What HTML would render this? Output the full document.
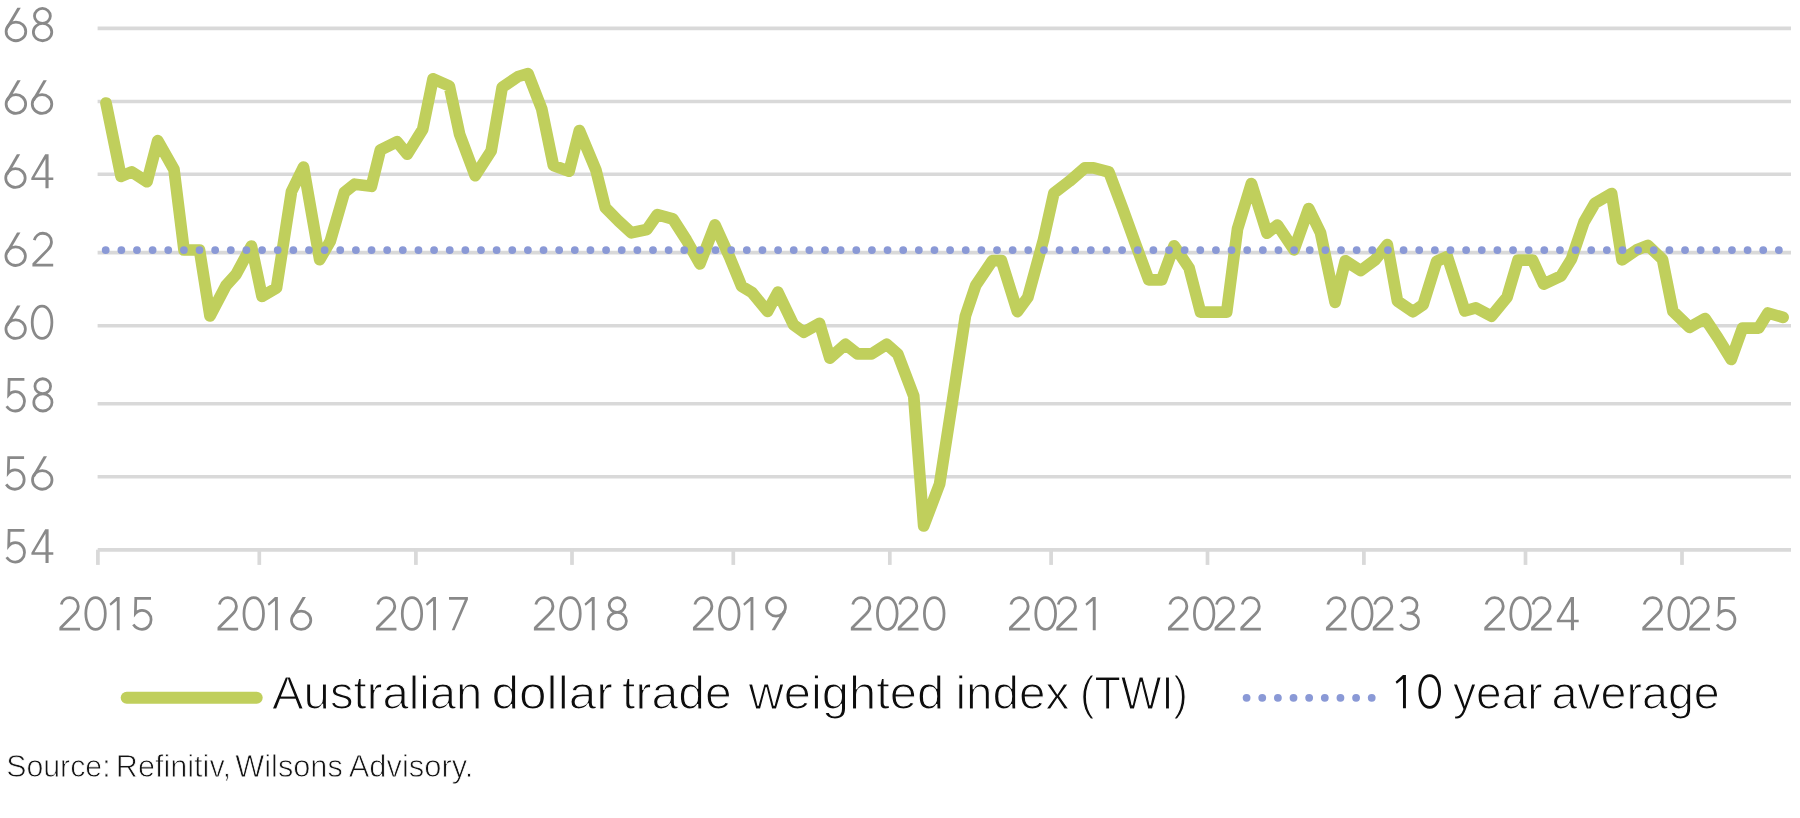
<!DOCTYPE html>
<html><head><meta charset="utf-8"><style>
html,body{margin:0;padding:0;background:#fff;width:1800px;height:818px;overflow:hidden}
svg{display:block;will-change:transform}
text{font-family:"Liberation Sans",sans-serif}
.ax{font-size:50.5px;fill:#898989;stroke:#fff;stroke-width:1.5px}
.lg{font-size:46.5px;fill:#0d0d0d;stroke:#fff;stroke-width:1.2px}
.src{font-size:31px;fill:#141414;stroke:#fff;stroke-width:0.8px}
.dg{fill:none;stroke:#898989;stroke-width:2.75px;stroke-linejoin:miter}
.dg-f{fill:#898989;fill-rule:evenodd}
.dk{fill:none;stroke:#0d0d0d;stroke-width:2.8px;stroke-linejoin:miter}
.dk-f{fill:#0d0d0d;fill-rule:evenodd}
</style></head><body>
<svg width="1800" height="818" viewBox="0 0 1800 818">
<line x1="97.6" y1="28.4" x2="1791" y2="28.4" stroke="#d9d9d9" stroke-width="3.6"/>
<line x1="97.6" y1="101.5" x2="1791" y2="101.5" stroke="#d9d9d9" stroke-width="3.6"/>
<line x1="97.6" y1="174.2" x2="1791" y2="174.2" stroke="#d9d9d9" stroke-width="3.6"/>
<line x1="97.6" y1="252.6" x2="1791" y2="252.6" stroke="#d9d9d9" stroke-width="3.6"/>
<line x1="97.6" y1="325.7" x2="1791" y2="325.7" stroke="#d9d9d9" stroke-width="3.6"/>
<line x1="97.6" y1="403.8" x2="1791" y2="403.8" stroke="#d9d9d9" stroke-width="3.6"/>
<line x1="97.6" y1="476.7" x2="1791" y2="476.7" stroke="#d9d9d9" stroke-width="3.6"/>
<line x1="97.7" y1="549.8" x2="1791" y2="549.8" stroke="#d9d9d9" stroke-width="3.7"/>
<line x1="97.9" y1="549.7" x2="97.9" y2="564.9" stroke="#d9d9d9" stroke-width="3.7"/>
<line x1="259.3" y1="549.7" x2="259.3" y2="564.9" stroke="#d9d9d9" stroke-width="3.7"/>
<line x1="415.9" y1="549.7" x2="415.9" y2="564.9" stroke="#d9d9d9" stroke-width="3.7"/>
<line x1="572.0" y1="549.7" x2="572.0" y2="564.9" stroke="#d9d9d9" stroke-width="3.7"/>
<line x1="733.3" y1="549.7" x2="733.3" y2="564.9" stroke="#d9d9d9" stroke-width="3.7"/>
<line x1="889.8" y1="549.7" x2="889.8" y2="564.9" stroke="#d9d9d9" stroke-width="3.7"/>
<line x1="1051.1" y1="549.7" x2="1051.1" y2="564.9" stroke="#d9d9d9" stroke-width="3.7"/>
<line x1="1207.5" y1="549.7" x2="1207.5" y2="564.9" stroke="#d9d9d9" stroke-width="3.7"/>
<line x1="1363.9" y1="549.7" x2="1363.9" y2="564.9" stroke="#d9d9d9" stroke-width="3.7"/>
<line x1="1525.5" y1="549.7" x2="1525.5" y2="564.9" stroke="#d9d9d9" stroke-width="3.7"/>
<line x1="1682.0" y1="549.7" x2="1682.0" y2="564.9" stroke="#d9d9d9" stroke-width="3.7"/>
<path d="M106,103 L121,176.4 L131.7,171.9 L147,181.7 L157.7,140.7 L174,169.5 L184,250 L199.5,250 L210,316 L226,285.5 L236,274.5 L251.4,246 L262,296.3 L276.5,288 L291.5,191.5 L303.5,167.1 L319.7,259.7 L330.3,241.1 L344.4,192.3 L354.7,184.2 L371.4,186.3 L380.4,149.9 L397,141.8 L407.3,154.2 L422.7,129.4 L433,78.8 L449.3,86 L459.6,134.2 L475.2,175.7 L491.2,150.8 L502.2,87.3 L518.2,76.5 L528,73.7 L541.7,108.8 L553.4,165.5 L569.1,171.2 L579.4,130.5 L596,170.3 L605.3,207.7 L618.5,221 L631.3,232.8 L646.9,229.5 L657.3,214.7 L672.9,219 L686.4,240 L699.9,264 L715,224.9 L730.1,258.2 L741.6,286.2 L752,292.5 L767.5,311.4 L777.9,292.2 L793.5,324.7 L803.9,332.2 L819.5,323.4 L829.9,358.2 L845.4,344.3 L857.5,353.9 L871.6,353.9 L886.8,344.3 L897.8,354.2 L913.7,395.8 L923.7,526 L939.6,484 L952,404 L965.4,316 L975.8,285.2 L992.3,260.7 L1001.5,260.7 L1017.4,311.6 L1027.8,297.4 L1043.5,239.8 L1053.9,193.1 L1069.5,181.2 L1085,167.8 L1093.5,167.8 L1108.9,172 L1122.5,208 L1135.6,244.2 L1148.7,279.8 L1161.7,279.8 L1174.1,245.8 L1189.1,268 L1200.5,312.1 L1213.7,312.1 L1226.7,312.1 L1237.5,229 L1251.4,183.5 L1267,233.2 L1277.4,225 L1294,249.8 L1308.7,208.5 L1320.5,232.8 L1335.1,302.3 L1345.3,260.8 L1360.7,270.6 L1375,260 L1387.3,244.6 L1397.5,301.2 L1412.9,311.7 L1423.2,304.6 L1436.7,261.3 L1447.3,256.5 L1464.8,311 L1475.8,307.8 L1491.4,316.2 L1507,297.3 L1518,260.1 L1532.6,260.1 L1543.6,284.1 L1561,276 L1571.5,259 L1584,222 L1594.9,203.2 L1611.6,193.5 L1622,259.8 L1636.5,250 L1647.9,245.4 L1662.5,259.4 L1672.9,311.3 L1689.5,327.3 L1705,318.5 L1718,338 L1731.2,359.4 L1742.5,328.1 L1758.6,328.1 L1767.9,313 L1783.1,317.4" fill="none" stroke="#c0cf5c" stroke-width="11.7" stroke-linejoin="round" stroke-linecap="round"/>
<g fill="#8a99d6"><circle cx="105.70" cy="250.1" r="3.9"/><circle cx="121.34" cy="250.1" r="3.9"/><circle cx="136.97" cy="250.1" r="3.9"/><circle cx="152.61" cy="250.1" r="3.9"/><circle cx="168.25" cy="250.1" r="3.9"/><circle cx="183.88" cy="250.1" r="3.9"/><circle cx="199.52" cy="250.1" r="3.9"/><circle cx="215.16" cy="250.1" r="3.9"/><circle cx="230.80" cy="250.1" r="3.9"/><circle cx="246.43" cy="250.1" r="3.9"/><circle cx="262.07" cy="250.1" r="3.9"/><circle cx="277.71" cy="250.1" r="3.9"/><circle cx="293.34" cy="250.1" r="3.9"/><circle cx="308.98" cy="250.1" r="3.9"/><circle cx="324.62" cy="250.1" r="3.9"/><circle cx="340.25" cy="250.1" r="3.9"/><circle cx="355.89" cy="250.1" r="3.9"/><circle cx="371.53" cy="250.1" r="3.9"/><circle cx="387.17" cy="250.1" r="3.9"/><circle cx="402.80" cy="250.1" r="3.9"/><circle cx="418.44" cy="250.1" r="3.9"/><circle cx="434.08" cy="250.1" r="3.9"/><circle cx="449.71" cy="250.1" r="3.9"/><circle cx="465.35" cy="250.1" r="3.9"/><circle cx="480.99" cy="250.1" r="3.9"/><circle cx="496.62" cy="250.1" r="3.9"/><circle cx="512.26" cy="250.1" r="3.9"/><circle cx="527.90" cy="250.1" r="3.9"/><circle cx="543.54" cy="250.1" r="3.9"/><circle cx="559.17" cy="250.1" r="3.9"/><circle cx="574.81" cy="250.1" r="3.9"/><circle cx="590.45" cy="250.1" r="3.9"/><circle cx="606.08" cy="250.1" r="3.9"/><circle cx="621.72" cy="250.1" r="3.9"/><circle cx="637.36" cy="250.1" r="3.9"/><circle cx="653.00" cy="250.1" r="3.9"/><circle cx="668.63" cy="250.1" r="3.9"/><circle cx="684.27" cy="250.1" r="3.9"/><circle cx="699.91" cy="250.1" r="3.9"/><circle cx="715.54" cy="250.1" r="3.9"/><circle cx="731.18" cy="250.1" r="3.9"/><circle cx="746.82" cy="250.1" r="3.9"/><circle cx="762.45" cy="250.1" r="3.9"/><circle cx="778.09" cy="250.1" r="3.9"/><circle cx="793.73" cy="250.1" r="3.9"/><circle cx="809.37" cy="250.1" r="3.9"/><circle cx="825.00" cy="250.1" r="3.9"/><circle cx="840.64" cy="250.1" r="3.9"/><circle cx="856.28" cy="250.1" r="3.9"/><circle cx="871.91" cy="250.1" r="3.9"/><circle cx="887.55" cy="250.1" r="3.9"/><circle cx="903.19" cy="250.1" r="3.9"/><circle cx="918.82" cy="250.1" r="3.9"/><circle cx="934.46" cy="250.1" r="3.9"/><circle cx="950.10" cy="250.1" r="3.9"/><circle cx="965.74" cy="250.1" r="3.9"/><circle cx="981.37" cy="250.1" r="3.9"/><circle cx="997.01" cy="250.1" r="3.9"/><circle cx="1012.65" cy="250.1" r="3.9"/><circle cx="1028.28" cy="250.1" r="3.9"/><circle cx="1043.92" cy="250.1" r="3.9"/><circle cx="1059.56" cy="250.1" r="3.9"/><circle cx="1075.19" cy="250.1" r="3.9"/><circle cx="1090.83" cy="250.1" r="3.9"/><circle cx="1106.47" cy="250.1" r="3.9"/><circle cx="1122.11" cy="250.1" r="3.9"/><circle cx="1137.74" cy="250.1" r="3.9"/><circle cx="1153.38" cy="250.1" r="3.9"/><circle cx="1169.02" cy="250.1" r="3.9"/><circle cx="1184.65" cy="250.1" r="3.9"/><circle cx="1200.29" cy="250.1" r="3.9"/><circle cx="1215.93" cy="250.1" r="3.9"/><circle cx="1231.56" cy="250.1" r="3.9"/><circle cx="1247.20" cy="250.1" r="3.9"/><circle cx="1262.84" cy="250.1" r="3.9"/><circle cx="1278.48" cy="250.1" r="3.9"/><circle cx="1294.11" cy="250.1" r="3.9"/><circle cx="1309.75" cy="250.1" r="3.9"/><circle cx="1325.39" cy="250.1" r="3.9"/><circle cx="1341.02" cy="250.1" r="3.9"/><circle cx="1356.66" cy="250.1" r="3.9"/><circle cx="1372.30" cy="250.1" r="3.9"/><circle cx="1387.93" cy="250.1" r="3.9"/><circle cx="1403.57" cy="250.1" r="3.9"/><circle cx="1419.21" cy="250.1" r="3.9"/><circle cx="1434.85" cy="250.1" r="3.9"/><circle cx="1450.48" cy="250.1" r="3.9"/><circle cx="1466.12" cy="250.1" r="3.9"/><circle cx="1481.76" cy="250.1" r="3.9"/><circle cx="1497.39" cy="250.1" r="3.9"/><circle cx="1513.03" cy="250.1" r="3.9"/><circle cx="1528.67" cy="250.1" r="3.9"/><circle cx="1544.30" cy="250.1" r="3.9"/><circle cx="1559.94" cy="250.1" r="3.9"/><circle cx="1575.58" cy="250.1" r="3.9"/><circle cx="1591.22" cy="250.1" r="3.9"/><circle cx="1606.85" cy="250.1" r="3.9"/><circle cx="1622.49" cy="250.1" r="3.9"/><circle cx="1638.13" cy="250.1" r="3.9"/><circle cx="1653.76" cy="250.1" r="3.9"/><circle cx="1669.40" cy="250.1" r="3.9"/><circle cx="1685.04" cy="250.1" r="3.9"/><circle cx="1700.67" cy="250.1" r="3.9"/><circle cx="1716.31" cy="250.1" r="3.9"/><circle cx="1731.95" cy="250.1" r="3.9"/><circle cx="1747.59" cy="250.1" r="3.9"/><circle cx="1763.22" cy="250.1" r="3.9"/><circle cx="1778.86" cy="250.1" r="3.9"/></g>
<path transform="translate(4.80,7.73) scale(1.0126,1.0200)" d="M11,14.1C16.3,14.1 20.7,18.1 20.7,23.2C20.7,28.3 16.3,32.35 11,32.35C5.7,32.35 1.3,28.3 1.3,23.2C1.3,18.1 5.7,14.1 11,14.1Z" class="dg"/><path transform="translate(4.80,7.73) scale(1.0126,1.0200)" d="M12.4,0H15.75L3.6,20.4L1.2,19Z" class="dg-f"/><path transform="translate(32.04,7.73) scale(1.0126,1.0200)" d="M10.25,0.7C14.6,0.7 18.1,4.1 18.1,8.1C18.1,12.1 14.6,15.4 10.25,15.4C5.9,15.4 2.4,12.1 2.4,8.1C2.4,4.1 5.9,0.7 10.25,0.7ZM10.4,15.4C15.4,15.4 19.5,19.2 19.5,23.9C19.5,28.6 15.4,32.35 10.4,32.35C5.4,32.35 1.3,28.6 1.3,23.9C1.3,19.2 5.4,15.4 10.4,15.4Z" class="dg"/>
<path transform="translate(4.80,80.33) scale(1.0084,1.0200)" d="M11,14.1C16.3,14.1 20.7,18.1 20.7,23.2C20.7,28.3 16.3,32.35 11,32.35C5.7,32.35 1.3,28.3 1.3,23.2C1.3,18.1 5.7,14.1 11,14.1Z" class="dg"/><path transform="translate(4.80,80.33) scale(1.0084,1.0200)" d="M12.4,0H15.75L3.6,20.4L1.2,19Z" class="dg-f"/><path transform="translate(30.92,80.33) scale(1.0084,1.0200)" d="M11,14.1C16.3,14.1 20.7,18.1 20.7,23.2C20.7,28.3 16.3,32.35 11,32.35C5.7,32.35 1.3,28.3 1.3,23.2C1.3,18.1 5.7,14.1 11,14.1Z" class="dg"/><path transform="translate(30.92,80.33) scale(1.0084,1.0200)" d="M12.4,0H15.75L3.6,20.4L1.2,19Z" class="dg-f"/>
<path transform="translate(4.40,154.33) scale(1.0041,1.0200)" d="M11,14.1C16.3,14.1 20.7,18.1 20.7,23.2C20.7,28.3 16.3,32.35 11,32.35C5.7,32.35 1.3,28.3 1.3,23.2C1.3,18.1 5.7,14.1 11,14.1Z" class="dg"/><path transform="translate(4.40,154.33) scale(1.0041,1.0200)" d="M12.4,0H15.75L3.6,20.4L1.2,19Z" class="dg-f"/><path transform="translate(31.31,154.33) scale(1.0041,1.0200)" d="M13.8,0H17.2V22.7H21.9V25.2H17.2V33.3H14.1V25.2H0V23.2ZM14.1,4.6V22.7H3.1Z" class="dg-f"/>
<path transform="translate(4.60,232.53) scale(1.0041,1.0200)" d="M11,14.1C16.3,14.1 20.7,18.1 20.7,23.2C20.7,28.3 16.3,32.35 11,32.35C5.7,32.35 1.3,28.3 1.3,23.2C1.3,18.1 5.7,14.1 11,14.1Z" class="dg"/><path transform="translate(4.60,232.53) scale(1.0041,1.0200)" d="M12.4,0H15.75L3.6,20.4L1.2,19Z" class="dg-f"/><path transform="translate(32.41,232.53) scale(1.0041,1.0200)" d="M1.9,7.5C2.9,3.6 6.3,0.7 10.4,0.7C15.4,0.7 19,4.4 19,9.2C19,12.3 17.6,14.6 15.2,17L0.9,31.3M0,32H20.7" class="dg"/>
<path transform="translate(4.60,305.43) scale(1.0041,1.0200)" d="M11,14.1C16.3,14.1 20.7,18.1 20.7,23.2C20.7,28.3 16.3,32.35 11,32.35C5.7,32.35 1.3,28.3 1.3,23.2C1.3,18.1 5.7,14.1 11,14.1Z" class="dg"/><path transform="translate(4.60,305.43) scale(1.0041,1.0200)" d="M12.4,0H15.75L3.6,20.4L1.2,19Z" class="dg-f"/><path transform="translate(30.91,305.43) scale(1.0041,1.0200)" d="M11.1,0.7C16.9,0.7 20.9,7.2 20.9,16.55C20.9,25.9 16.9,32.35 11.1,32.35C5.3,32.35 1.3,25.9 1.3,16.55C1.3,7.2 5.3,0.7 11.1,0.7Z" class="dg"/>
<path transform="translate(5.40,378.03) scale(1.0000,1.0200)" d="M2.3,1.3H19M3.7,1.3L3.3,16.4C5,14.3 7.4,13.3 9.9,13.3C15,13.3 19.1,17.5 19.1,22.8C19.1,28.1 15,32.35 9.9,32.35C6.3,32.35 3.1,30.4 1.2,27.6" class="dg"/><path transform="translate(32.50,378.03) scale(1.0000,1.0200)" d="M10.25,0.7C14.6,0.7 18.1,4.1 18.1,8.1C18.1,12.1 14.6,15.4 10.25,15.4C5.9,15.4 2.4,12.1 2.4,8.1C2.4,4.1 5.9,0.7 10.25,0.7ZM10.4,15.4C15.4,15.4 19.5,19.2 19.5,23.9C19.5,28.6 15.4,32.35 10.4,32.35C5.4,32.35 1.3,28.6 1.3,23.9C1.3,19.2 5.4,15.4 10.4,15.4Z" class="dg"/>
<path transform="translate(5.00,456.23) scale(1.0042,1.0200)" d="M2.3,1.3H19M3.7,1.3L3.3,16.4C5,14.3 7.4,13.3 9.9,13.3C15,13.3 19.1,17.5 19.1,22.8C19.1,28.1 15,32.35 9.9,32.35C6.3,32.35 3.1,30.4 1.2,27.6" class="dg"/><path transform="translate(31.21,456.23) scale(1.0042,1.0200)" d="M11,14.1C16.3,14.1 20.7,18.1 20.7,23.2C20.7,28.3 16.3,32.35 11,32.35C5.7,32.35 1.3,28.3 1.3,23.2C1.3,18.1 5.7,14.1 11,14.1Z" class="dg"/><path transform="translate(31.21,456.23) scale(1.0042,1.0200)" d="M12.4,0H15.75L3.6,20.4L1.2,19Z" class="dg-f"/>
<path transform="translate(5.40,529.13) scale(1.0000,1.0200)" d="M2.3,1.3H19M3.7,1.3L3.3,16.4C5,14.3 7.4,13.3 9.9,13.3C15,13.3 19.1,17.5 19.1,22.8C19.1,28.1 15,32.35 9.9,32.35C6.3,32.35 3.1,30.4 1.2,27.6" class="dg"/><path transform="translate(31.40,529.13) scale(1.0000,1.0200)" d="M13.8,0H17.2V22.7H21.9V25.2H17.2V33.3H14.1V25.2H0V23.2ZM14.1,4.6V22.7H3.1Z" class="dg-f"/>
<path transform="translate(59.38,597.00) scale(0.9945,1.0000)" d="M1.9,7.5C2.9,3.6 6.3,0.7 10.4,0.7C15.4,0.7 19,4.4 19,9.2C19,12.3 17.6,14.6 15.2,17L0.9,31.3M0,32H20.7" class="dg"/><path transform="translate(84.52,597.00) scale(0.9945,1.0000)" d="M11.1,0.7C16.9,0.7 20.9,7.2 20.9,16.55C20.9,25.9 16.9,32.35 11.1,32.35C5.3,32.35 1.3,25.9 1.3,16.55C1.3,7.2 5.3,0.7 11.1,0.7Z" class="dg"/><path transform="translate(109.51,597.00) scale(0.9945,1.0000)" d="M7.3,0H10.2V33.3H7.3V3.8L1.2,8.8L0,6.7Z" class="dg-f"/><path transform="translate(132.11,597.00) scale(0.9945,1.0000)" d="M2.3,1.3H19M3.7,1.3L3.3,16.4C5,14.3 7.4,13.3 9.9,13.3C15,13.3 19.1,17.5 19.1,22.8C19.1,28.1 15,32.35 9.9,32.35C6.3,32.35 3.1,30.4 1.2,27.6" class="dg"/>
<path transform="translate(217.50,597.00) scale(0.9958,1.0000)" d="M1.9,7.5C2.9,3.6 6.3,0.7 10.4,0.7C15.4,0.7 19,4.4 19,9.2C19,12.3 17.6,14.6 15.2,17L0.9,31.3M0,32H20.7" class="dg"/><path transform="translate(242.67,597.00) scale(0.9958,1.0000)" d="M11.1,0.7C16.9,0.7 20.9,7.2 20.9,16.55C20.9,25.9 16.9,32.35 11.1,32.35C5.3,32.35 1.3,25.9 1.3,16.55C1.3,7.2 5.3,0.7 11.1,0.7Z" class="dg"/><path transform="translate(267.69,597.00) scale(0.9958,1.0000)" d="M7.3,0H10.2V33.3H7.3V3.8L1.2,8.8L0,6.7Z" class="dg-f"/><path transform="translate(290.19,597.00) scale(0.9958,1.0000)" d="M11,14.1C16.3,14.1 20.7,18.1 20.7,23.2C20.7,28.3 16.3,32.35 11,32.35C5.7,32.35 1.3,28.3 1.3,23.2C1.3,18.1 5.7,14.1 11,14.1Z" class="dg"/><path transform="translate(290.19,597.00) scale(0.9958,1.0000)" d="M12.4,0H15.75L3.6,20.4L1.2,19Z" class="dg-f"/>
<path transform="translate(375.95,597.00) scale(0.9903,1.0000)" d="M1.9,7.5C2.9,3.6 6.3,0.7 10.4,0.7C15.4,0.7 19,4.4 19,9.2C19,12.3 17.6,14.6 15.2,17L0.9,31.3M0,32H20.7" class="dg"/><path transform="translate(400.98,597.00) scale(0.9903,1.0000)" d="M11.1,0.7C16.9,0.7 20.9,7.2 20.9,16.55C20.9,25.9 16.9,32.35 11.1,32.35C5.3,32.35 1.3,25.9 1.3,16.55C1.3,7.2 5.3,0.7 11.1,0.7Z" class="dg"/><path transform="translate(425.86,597.00) scale(0.9903,1.0000)" d="M7.3,0H10.2V33.3H7.3V3.8L1.2,8.8L0,6.7Z" class="dg-f"/><path transform="translate(448.99,597.00) scale(0.9903,1.0000)" d="M0,0H19.1V2.6L5.6,33.3H2.8L16,2.8H0Z" class="dg-f"/>
<path transform="translate(533.90,597.00) scale(1.0032,1.0000)" d="M1.9,7.5C2.9,3.6 6.3,0.7 10.4,0.7C15.4,0.7 19,4.4 19,9.2C19,12.3 17.6,14.6 15.2,17L0.9,31.3M0,32H20.7" class="dg"/><path transform="translate(559.26,597.00) scale(1.0032,1.0000)" d="M11.1,0.7C16.9,0.7 20.9,7.2 20.9,16.55C20.9,25.9 16.9,32.35 11.1,32.35C5.3,32.35 1.3,25.9 1.3,16.55C1.3,7.2 5.3,0.7 11.1,0.7Z" class="dg"/><path transform="translate(584.46,597.00) scale(1.0032,1.0000)" d="M7.3,0H10.2V33.3H7.3V3.8L1.2,8.8L0,6.7Z" class="dg-f"/><path transform="translate(606.83,597.00) scale(1.0032,1.0000)" d="M10.25,0.7C14.6,0.7 18.1,4.1 18.1,8.1C18.1,12.1 14.6,15.4 10.25,15.4C5.9,15.4 2.4,12.1 2.4,8.1C2.4,4.1 5.9,0.7 10.25,0.7ZM10.4,15.4C15.4,15.4 19.5,19.2 19.5,23.9C19.5,28.6 15.4,32.35 10.4,32.35C5.4,32.35 1.3,28.6 1.3,23.9C1.3,19.2 5.4,15.4 10.4,15.4Z" class="dg"/>
<path transform="translate(692.95,597.00) scale(0.9973,1.0000)" d="M1.9,7.5C2.9,3.6 6.3,0.7 10.4,0.7C15.4,0.7 19,4.4 19,9.2C19,12.3 17.6,14.6 15.2,17L0.9,31.3M0,32H20.7" class="dg"/><path transform="translate(718.16,597.00) scale(0.9973,1.0000)" d="M11.1,0.7C16.9,0.7 20.9,7.2 20.9,16.55C20.9,25.9 16.9,32.35 11.1,32.35C5.3,32.35 1.3,25.9 1.3,16.55C1.3,7.2 5.3,0.7 11.1,0.7Z" class="dg"/><path transform="translate(743.22,597.00) scale(0.9973,1.0000)" d="M7.3,0H10.2V33.3H7.3V3.8L1.2,8.8L0,6.7Z" class="dg-f"/><path transform="translate(765.21,597.00) scale(0.9973,1.0000)" d="M10.8,0.7C16,0.7 20.3,4.9 20.3,9.9C20.3,14.9 16,19.1 10.8,19.1C5.6,19.1 1.3,14.9 1.3,9.9C1.3,4.9 5.6,0.7 10.8,0.7Z" class="dg"/><path transform="translate(765.21,597.00) scale(0.9973,1.0000)" d="M18.2,13.2L20.8,14.9L9.85,33.3H6.45Z" class="dg-f"/>
<path transform="translate(850.83,597.00) scale(1.0017,1.0000)" d="M1.9,7.5C2.9,3.6 6.3,0.7 10.4,0.7C15.4,0.7 19,4.4 19,9.2C19,12.3 17.6,14.6 15.2,17L0.9,31.3M0,32H20.7" class="dg"/><path transform="translate(876.15,597.00) scale(1.0017,1.0000)" d="M11.1,0.7C16.9,0.7 20.9,7.2 20.9,16.55C20.9,25.9 16.9,32.35 11.1,32.35C5.3,32.35 1.3,25.9 1.3,16.55C1.3,7.2 5.3,0.7 11.1,0.7Z" class="dg"/><path transform="translate(897.79,597.00) scale(1.0017,1.0000)" d="M1.9,7.5C2.9,3.6 6.3,0.7 10.4,0.7C15.4,0.7 19,4.4 19,9.2C19,12.3 17.6,14.6 15.2,17L0.9,31.3M0,32H20.7" class="dg"/><path transform="translate(923.11,597.00) scale(1.0017,1.0000)" d="M11.1,0.7C16.9,0.7 20.9,7.2 20.9,16.55C20.9,25.9 16.9,32.35 11.1,32.35C5.3,32.35 1.3,25.9 1.3,16.55C1.3,7.2 5.3,0.7 11.1,0.7Z" class="dg"/>
<path transform="translate(1009.00,597.00) scale(1.0084,1.0000)" d="M1.9,7.5C2.9,3.6 6.3,0.7 10.4,0.7C15.4,0.7 19,4.4 19,9.2C19,12.3 17.6,14.6 15.2,17L0.9,31.3M0,32H20.7" class="dg"/><path transform="translate(1034.49,597.00) scale(1.0084,1.0000)" d="M11.1,0.7C16.9,0.7 20.9,7.2 20.9,16.55C20.9,25.9 16.9,32.35 11.1,32.35C5.3,32.35 1.3,25.9 1.3,16.55C1.3,7.2 5.3,0.7 11.1,0.7Z" class="dg"/><path transform="translate(1056.27,597.00) scale(1.0084,1.0000)" d="M1.9,7.5C2.9,3.6 6.3,0.7 10.4,0.7C15.4,0.7 19,4.4 19,9.2C19,12.3 17.6,14.6 15.2,17L0.9,31.3M0,32H20.7" class="dg"/><path transform="translate(1085.41,597.00) scale(1.0084,1.0000)" d="M7.3,0H10.2V33.3H7.3V3.8L1.2,8.8L0,6.7Z" class="dg-f"/>
<path transform="translate(1168.00,597.00) scale(0.9938,1.0000)" d="M1.9,7.5C2.9,3.6 6.3,0.7 10.4,0.7C15.4,0.7 19,4.4 19,9.2C19,12.3 17.6,14.6 15.2,17L0.9,31.3M0,32H20.7" class="dg"/><path transform="translate(1193.12,597.00) scale(0.9938,1.0000)" d="M11.1,0.7C16.9,0.7 20.9,7.2 20.9,16.55C20.9,25.9 16.9,32.35 11.1,32.35C5.3,32.35 1.3,25.9 1.3,16.55C1.3,7.2 5.3,0.7 11.1,0.7Z" class="dg"/><path transform="translate(1214.59,597.00) scale(0.9938,1.0000)" d="M1.9,7.5C2.9,3.6 6.3,0.7 10.4,0.7C15.4,0.7 19,4.4 19,9.2C19,12.3 17.6,14.6 15.2,17L0.9,31.3M0,32H20.7" class="dg"/><path transform="translate(1240.33,597.00) scale(0.9938,1.0000)" d="M1.9,7.5C2.9,3.6 6.3,0.7 10.4,0.7C15.4,0.7 19,4.4 19,9.2C19,12.3 17.6,14.6 15.2,17L0.9,31.3M0,32H20.7" class="dg"/>
<path transform="translate(1325.95,597.00) scale(0.9986,1.0000)" d="M1.9,7.5C2.9,3.6 6.3,0.7 10.4,0.7C15.4,0.7 19,4.4 19,9.2C19,12.3 17.6,14.6 15.2,17L0.9,31.3M0,32H20.7" class="dg"/><path transform="translate(1351.20,597.00) scale(0.9986,1.0000)" d="M11.1,0.7C16.9,0.7 20.9,7.2 20.9,16.55C20.9,25.9 16.9,32.35 11.1,32.35C5.3,32.35 1.3,25.9 1.3,16.55C1.3,7.2 5.3,0.7 11.1,0.7Z" class="dg"/><path transform="translate(1372.77,597.00) scale(0.9986,1.0000)" d="M1.9,7.5C2.9,3.6 6.3,0.7 10.4,0.7C15.4,0.7 19,4.4 19,9.2C19,12.3 17.6,14.6 15.2,17L0.9,31.3M0,32H20.7" class="dg"/><path transform="translate(1399.03,597.00) scale(0.9986,1.0000)" d="M2.5,5.2C4,2.4 6.8,0.7 10.2,0.7C14.5,0.7 18,3.9 18,8.3C18,12.9 14.6,16.1 10,16.1H7.6M10,16.1C15.4,16.1 19.5,19.4 19.5,24.2C19.5,29 15.5,32.35 10.4,32.35C6.4,32.35 3.2,30.4 1.3,27.3" class="dg"/>
<path transform="translate(1484.25,597.00) scale(0.9992,1.0000)" d="M1.9,7.5C2.9,3.6 6.3,0.7 10.4,0.7C15.4,0.7 19,4.4 19,9.2C19,12.3 17.6,14.6 15.2,17L0.9,31.3M0,32H20.7" class="dg"/><path transform="translate(1509.51,597.00) scale(0.9992,1.0000)" d="M11.1,0.7C16.9,0.7 20.9,7.2 20.9,16.55C20.9,25.9 16.9,32.35 11.1,32.35C5.3,32.35 1.3,25.9 1.3,16.55C1.3,7.2 5.3,0.7 11.1,0.7Z" class="dg"/><path transform="translate(1531.09,597.00) scale(0.9992,1.0000)" d="M1.9,7.5C2.9,3.6 6.3,0.7 10.4,0.7C15.4,0.7 19,4.4 19,9.2C19,12.3 17.6,14.6 15.2,17L0.9,31.3M0,32H20.7" class="dg"/><path transform="translate(1556.82,597.00) scale(0.9992,1.0000)" d="M13.8,0H17.2V22.7H21.9V25.2H17.2V33.3H14.1V25.2H0V23.2ZM14.1,4.6V22.7H3.1Z" class="dg-f"/>
<path transform="translate(1642.30,597.00) scale(1.0013,1.0000)" d="M1.9,7.5C2.9,3.6 6.3,0.7 10.4,0.7C15.4,0.7 19,4.4 19,9.2C19,12.3 17.6,14.6 15.2,17L0.9,31.3M0,32H20.7" class="dg"/><path transform="translate(1667.61,597.00) scale(1.0013,1.0000)" d="M11.1,0.7C16.9,0.7 20.9,7.2 20.9,16.55C20.9,25.9 16.9,32.35 11.1,32.35C5.3,32.35 1.3,25.9 1.3,16.55C1.3,7.2 5.3,0.7 11.1,0.7Z" class="dg"/><path transform="translate(1689.24,597.00) scale(1.0013,1.0000)" d="M1.9,7.5C2.9,3.6 6.3,0.7 10.4,0.7C15.4,0.7 19,4.4 19,9.2C19,12.3 17.6,14.6 15.2,17L0.9,31.3M0,32H20.7" class="dg"/><path transform="translate(1715.77,597.00) scale(1.0013,1.0000)" d="M2.3,1.3H19M3.7,1.3L3.3,16.4C5,14.3 7.4,13.3 9.9,13.3C15,13.3 19.1,17.5 19.1,22.8C19.1,28.1 15,32.35 9.9,32.35C6.3,32.35 3.1,30.4 1.2,27.6" class="dg"/>
<text x="272.10" y="709.00" class="lg" textLength="210.14" lengthAdjust="spacingAndGlyphs">Australian</text>
<text x="491.40" y="709.00" class="lg" textLength="121.41" lengthAdjust="spacingAndGlyphs">dollar</text>
<text x="622.10" y="709.00" class="lg" textLength="109.52" lengthAdjust="spacingAndGlyphs">trade</text>
<text x="748.40" y="709.00" class="lg" textLength="195.73" lengthAdjust="spacingAndGlyphs">weighted</text>
<text x="955.40" y="709.00" class="lg" textLength="113.93" lengthAdjust="spacingAndGlyphs">index</text>
<text x="1080.10" y="709.00" class="lg" textLength="107.73" lengthAdjust="spacingAndGlyphs">(TWI)</text>
<text x="1453.00" y="709.00" class="lg" textLength="89.61" lengthAdjust="spacingAndGlyphs">year</text>
<text x="1551.40" y="709.00" class="lg" textLength="168.31" lengthAdjust="spacingAndGlyphs">average</text>
<text x="6.20" y="777.30" class="src" textLength="104.40" lengthAdjust="spacingAndGlyphs">Source:</text>
<text x="115.75" y="777.30" class="src" textLength="115.22" lengthAdjust="spacingAndGlyphs">Refinitiv,</text>
<text x="235.30" y="777.30" class="src" textLength="107.48" lengthAdjust="spacingAndGlyphs">Wilsons</text>
<text x="348.70" y="777.30" class="src" textLength="124.74" lengthAdjust="spacingAndGlyphs">Advisory.</text>
<line x1="126.7" y1="697.8" x2="256.7" y2="697.8" stroke="#c0cf5c" stroke-width="12" stroke-linecap="round"/>
<g fill="#8a99d6"><circle cx="1246.60" cy="697.8" r="3.9"/><circle cx="1262.24" cy="697.8" r="3.9"/><circle cx="1277.88" cy="697.8" r="3.9"/><circle cx="1293.52" cy="697.8" r="3.9"/><circle cx="1309.16" cy="697.8" r="3.9"/><circle cx="1324.80" cy="697.8" r="3.9"/><circle cx="1340.44" cy="697.8" r="3.9"/><circle cx="1356.08" cy="697.8" r="3.9"/><circle cx="1371.72" cy="697.8" r="3.9"/></g>
<path transform="translate(1395.60,675.00) scale(1.0112,1.0000)" d="M7.3,0H10.2V33.3H7.3V3.8L1.2,8.8L0,6.7Z" class="dk-f"/><path transform="translate(1418.45,675.00) scale(1.0112,1.0000)" d="M11.1,0.7C16.9,0.7 20.9,7.2 20.9,16.55C20.9,25.9 16.9,32.35 11.1,32.35C5.3,32.35 1.3,25.9 1.3,16.55C1.3,7.2 5.3,0.7 11.1,0.7Z" class="dk"/>
</svg>
</body></html>
